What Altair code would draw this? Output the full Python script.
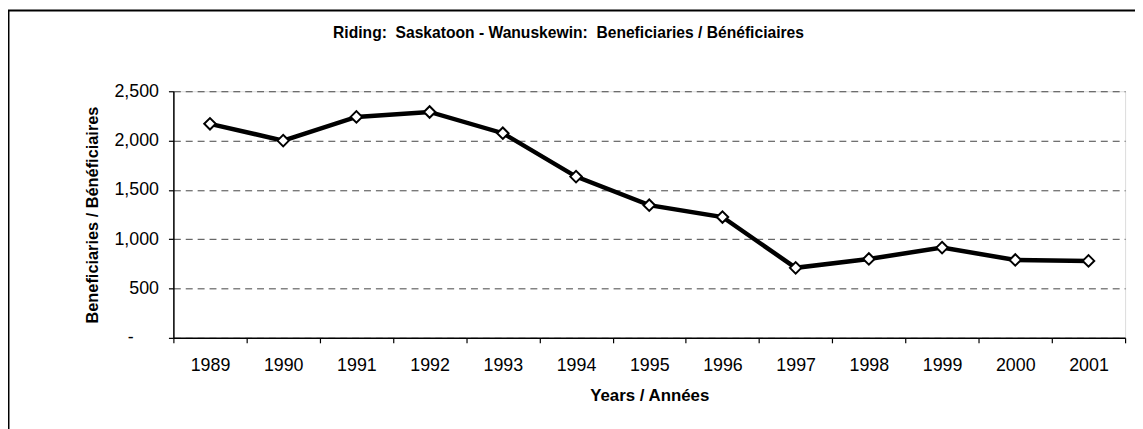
import altair as alt
import pandas as pd

years = ["1989", "1990", "1991", "1992", "1993", "1994", "1995",
         "1996", "1997", "1998", "1999", "2000", "2001"]
beneficiaries = [2170, 2000, 2240, 2290, 2075, 1635, 1345,
                 1225, 710, 800, 915, 790, 780]
y_ticks = [0, 500, 1000, 1500, 2000, 2500]
title_text = "Riding:\u00a0 Saskatoon - Wanuskewin:\u00a0 Beneficiaries / Bénéficiaires"

df = pd.DataFrame({"year": years, "value": beneficiaries})

W, H = 961, 249
FONT = "Liberation Sans, Arial, sans-serif"

x_enc = alt.X(
    "year:N", sort=years, bandPosition=0.5,
    scale=alt.Scale(type="band", paddingInner=0, paddingOuter=0),
    axis=alt.Axis(
        title="Years / Années", labelAngle=0, tickBand="extent",
        grid=False, domainColor="black", domainWidth=1.5,
        tickColor="black", tickWidth=1.2, tickSize=5,
        labelFont=FONT, labelFontSize=18, labelColor="black", labelPadding=14,
        titleFont=FONT, titleFontSize=17, titleFontWeight="bold",
        titleColor="black", titlePadding=13,
    ),
)
y_scale = alt.Scale(domain=[0, 2500], nice=False)
y_enc = alt.Y(
    "value:Q",
    scale=y_scale,
    axis=alt.Axis(
        title="Beneficiaries / Bénéficiaires", values=y_ticks,
        labelExpr="datum.value == 0 ? '' : format(datum.value, ',')",
        grid=True, gridColor="#444444", gridDash=[7, 5], gridWidth=1,
        domainColor="black", domainWidth=1.5,
        tickColor="black", tickWidth=1.2, tickSize=5,
        labelFont=FONT, labelFontSize=18, labelColor="black", labelPadding=10,
        titleFont=FONT, titleFontSize=16.5, titleFontWeight="bold",
        titleColor="black", titlePadding=14,
    ),
)

frame = alt.Chart(pd.DataFrame({"a": [0]})).mark_rect(
    fill=None, stroke="black", strokeWidth=2
).encode(
    x=alt.value(-166.5), y=alt.value(-81.5),
    x2=alt.value(W + 30), y2=alt.value(H + 120),
)

title = alt.Chart(pd.DataFrame({"t": [title_text]})).mark_text(
    font=FONT, fontSize=15.8, fontWeight="bold", color="black",
    align="center", baseline="middle"
).encode(x=alt.value(399), y=alt.value(-59), text="t:N")

zero_label = alt.Chart(pd.DataFrame({"value": [0], "t": ["-"]})).mark_text(
    font=FONT, fontSize=18, color="black", align="center", baseline="middle"
).encode(x=alt.value(-43), y=alt.Y("value:Q", scale=y_scale), text="t:N")

line = alt.Chart(df).mark_line(color="black", strokeWidth=4.5).encode(x=x_enc, y=y_enc)
points = alt.Chart(df).mark_point(
    shape="diamond", size=135, filled=True, fill="white",
    stroke="black", strokeWidth=2, opacity=1
).encode(x=x_enc, y=y_enc)

chart = alt.layer(frame, title, line, points, zero_label).properties(
    width=W, height=H,
    autosize="none",
    padding={"left": 167, "top": 82, "right": 10, "bottom": 95},
).configure_view(stroke="#808080", strokeWidth=1.5).configure(background="white")

chart.save("out.html", embed_options={"renderer": "svg", "actions": False})
